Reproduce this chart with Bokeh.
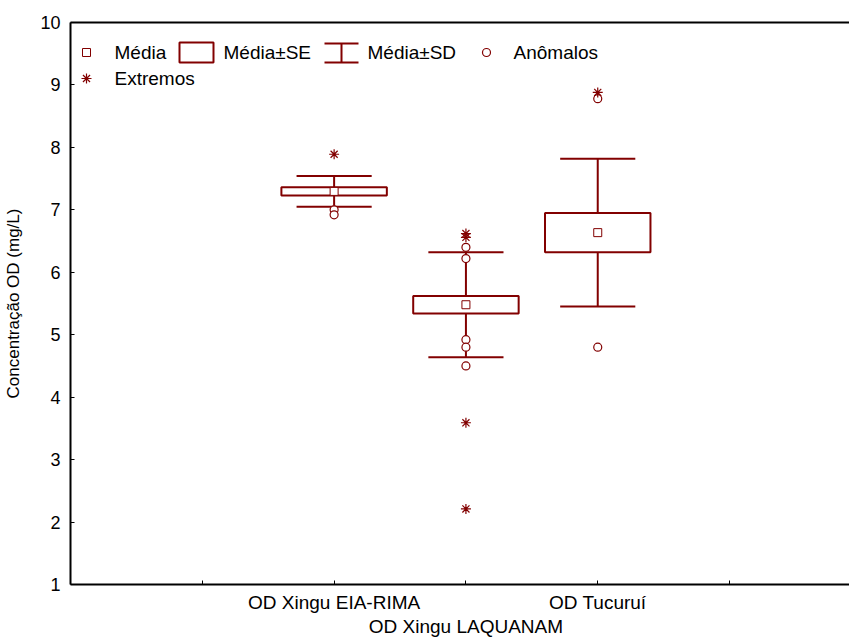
from bokeh.plotting import figure
from bokeh.models import FixedTicker, LinearAxis, Range1d
from bokeh.embed import file_html
from bokeh.resources import INLINE
from bokeh.core.properties import value

# ---------------- data ----------------
categories = ["OD Xingu EIA-RIMA", "OD Xingu LAQUANAM", "OD Tucuruí"]
means = [7.295, 5.48, 6.635]
se = [0.065, 0.14, 0.315]
sd = [0.245, 0.84, 1.185]

out_group = [0, 0, 1, 1, 1, 1, 1, 2, 2]
out_vals = [7.00, 6.92, 6.40, 6.22, 4.92, 4.80, 4.50, 8.78, 4.80]

ext_group = [0, 1, 1, 1, 1, 2]
ext_vals = [7.89, 6.62, 6.56, 3.59, 2.21, 8.88]

y_ticks = [1, 2, 3, 4, 5, 6, 7, 8, 9, 10]
y_label = "Concentração OD (mg/L)"
legend_labels = ["Média", "Média±SE", "Média±SD", "Anômalos", "Extremos"]

# ---------------- layout ----------------
C = "#820000"
FONT = "Liberation Sans"
W, H = 849, 639
L, T, B = 70, 22, 55
X0, X1 = -1.0, 4.91
Y0, Y1 = 1.0, 10.0
FW, FH = W - L, H - T - B

def dx(px):
    return X0 + (px - L) / FW * (X1 - X0)

def dy(py):
    return Y1 - (py - T) / FH * (Y1 - Y0)

p = figure(width=W, height=H, output_backend="svg", toolbar_location=None,
           x_range=Range1d(X0, X1), y_range=Range1d(Y0, Y1),
           min_border_left=L, min_border_top=T, min_border_bottom=B,
           min_border_right=0, x_axis_location=None, y_axis_location=None)
p.grid.visible = False
p.outline_line_color = None
p.background_fill_color = "white"
p.border_fill_color = "white"

# y axis
yax = LinearAxis(ticker=FixedTicker(ticks=y_ticks), axis_label=y_label)
yax.axis_line_width = 2
yax.axis_line_color = "black"
yax.major_tick_in = 4
yax.major_tick_out = 0
yax.major_tick_line_width = 1
yax.minor_tick_line_color = None
yax.major_label_standoff = 10
yax.major_label_text_font = FONT
yax.major_label_text_font_size = "18px"
yax.major_label_text_color = "black"
yax.axis_label_text_font = FONT
yax.axis_label_text_font_size = "17px"
yax.axis_label_text_font_style = "normal"
yax.axis_label_text_color = "black"
yax.axis_label_standoff = 14
p.add_layout(yax, "left")

# x axis: alternate rows for the category labels (second row via a leading newline)
xs = [i + 1 for i in range(len(categories))]
ticks = [0] + xs + [len(categories) + 1]
over = {t: "" for t in ticks}
for i, x in enumerate(xs):
    over[x] = categories[i] if i % 2 == 0 else "\n" + categories[i]

xax = LinearAxis(ticker=FixedTicker(ticks=ticks), major_label_overrides=over)
xax.axis_line_width = 2
xax.major_tick_in = 4
xax.major_tick_out = 0
xax.minor_tick_line_color = None
xax.major_label_standoff = 7
xax.axis_label_standoff = 0
xax.major_label_text_font = FONT
xax.major_label_text_font_size = "19px"
xax.major_label_text_line_height = 1.15
xax.major_label_text_color = "black"
p.add_layout(xax, "below")

top = LinearAxis(ticker=FixedTicker(ticks=[]))
top.axis_line_width = 2
top.major_tick_line_color = None
top.minor_tick_line_color = None
top.major_label_text_font_size = "0px"
p.add_layout(top, "above")

# ---------------- marks ----------------
BOX_HW = 0.40
CAP_HW = 0.285
lo_sd = [m - s for m, s in zip(means, sd)]
hi_sd = [m + s for m, s in zip(means, sd)]
lo_se = [m - s for m, s in zip(means, se)]
hi_se = [m + s for m, s in zip(means, se)]

p.segment(x0=xs, y0=lo_sd, x1=xs, y1=hi_sd, line_color=C, line_width=2)
p.segment(x0=[x - CAP_HW for x in xs], y0=hi_sd, x1=[x + CAP_HW for x in xs], y1=hi_sd,
          line_color=C, line_width=2)
p.segment(x0=[x - CAP_HW for x in xs], y0=lo_sd, x1=[x + CAP_HW for x in xs], y1=lo_sd,
          line_color=C, line_width=2)
p.quad(left=[x - BOX_HW for x in xs], right=[x + BOX_HW for x in xs],
       bottom=lo_se, top=hi_se, fill_color="white", line_color=C, line_width=2)
p.scatter(x=xs, y=means, marker="square", size=8, fill_color="white",
          line_color=C, line_width=1)
p.scatter(x=[xs[g] for g in out_group], y=out_vals, marker="circle", size=8,
          fill_color="white", line_color=C, line_width=1.2)
p.scatter(x=[xs[g] for g in ext_group], y=ext_vals, marker="asterisk", size=10,
          line_color=C, line_width=1.2)

# ---------------- legend (manual) ----------------
r1, r2 = 52, 78
p.scatter(x=[dx(86)], y=[dy(r1)], marker="square", size=8, fill_color="white",
          line_color=C, line_width=1)
p.quad(left=[dx(179)], right=[dx(213)], top=[dy(42)], bottom=[dy(62)],
       fill_color=None, line_color=C, line_width=2)
p.segment(x0=[dx(324), dx(324), dx(341)], y0=[dy(43), dy(62), dy(43)],
          x1=[dx(358), dx(358), dx(341)], y1=[dy(43), dy(62), dy(62)],
          line_color=C, line_width=2)
p.scatter(x=[dx(486)], y=[dy(r1)], marker="circle", size=8, fill_color="white",
          line_color=C, line_width=1.2)
p.scatter(x=[dx(86)], y=[dy(r2)], marker="asterisk", size=10, line_color=C,
          line_width=1.2)

p.text(x=[dx(114), dx(223), dx(367), dx(513), dx(114)],
       y=[dy(r1), dy(r1), dy(r1), dy(r1), dy(r2)],
       text=legend_labels, text_font=value(FONT), text_font_size="19px",
       text_color="black", text_align="left", text_baseline="middle")

open("out.html", "w").write(file_html(p, INLINE))
